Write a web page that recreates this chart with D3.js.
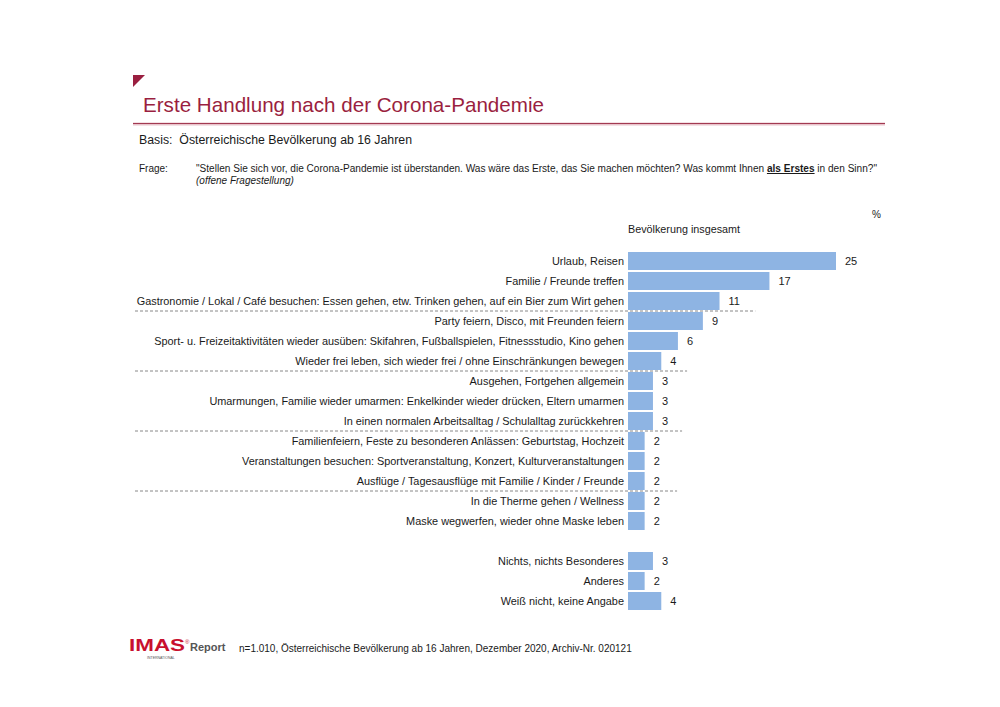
<!DOCTYPE html>
<html><head><meta charset="utf-8">
<script src="https://cdn.jsdelivr.net/npm/d3@7"></script>
<style>
html,body{margin:0;padding:0;background:#fff;}
svg{display:block;font-family:"Liberation Sans",Arial,sans-serif;}
</style></head>
<body>
<svg id="chart" width="1000" height="707"></svg>
<script>
const categories = [
  "Urlaub, Reisen",
  "Familie / Freunde treffen",
  "Gastronomie / Lokal / Café besuchen: Essen gehen, etw. Trinken gehen, auf ein Bier zum Wirt gehen",
  "Party feiern, Disco, mit Freunden feiern",
  "Sport- u. Freizeitaktivitäten wieder ausüben: Skifahren, Fußballspielen, Fitnessstudio, Kino gehen",
  "Wieder frei leben, sich wieder frei / ohne Einschränkungen bewegen",
  "Ausgehen, Fortgehen allgemein",
  "Umarmungen, Familie wieder umarmen: Enkelkinder wieder drücken, Eltern umarmen",
  "In einen normalen Arbeitsalltag / Schulalltag zurückkehren",
  "Familienfeiern, Feste zu besonderen Anlässen: Geburtstag, Hochzeit",
  "Veranstaltungen besuchen: Sportveranstaltung, Konzert, Kulturveranstaltungen",
  "Ausflüge / Tagesausflüge mit Familie / Kinder / Freunde",
  "In die Therme gehen / Wellness",
  "Maske wegwerfen, wieder ohne Maske leben",
  "Nichts, nichts Besonderes",
  "Anderes",
  "Weiß nicht, keine Angabe"
];
const values = [25, 17, 11, 9, 6, 4, 3, 3, 3, 2, 2, 2, 2, 2, 3, 2, 4];
// separator lines after these category indices, with their extent in value units
const separatorsAfter = [2, 5, 8, 11];
const separatorExtent = [15.3, 7.1, 6.5, 5.9];
const gapBeforeIndex = 14;

const title = "Erste Handlung nach der Corona-Pandemie";
const basis = "Basis:  Österreichische Bevölkerung ab 16 Jahren";
const seriesName = "Bevölkerung insgesamt";
const footnote = "n=1.010, Österreichische Bevölkerung ab 16 Jahren, Dezember 2020, Archiv-Nr. 020121";

const svg = d3.select("#chart");
const crimson = "#9a1f40";
const textCol = "#1a1a1a";

// header
svg.append("path").attr("d","M133,75 L145,75 L133,87 Z").attr("fill", crimson);
svg.append("text").attr("x",143).attr("y",112).attr("font-size",21).attr("fill",crimson)
  .attr("textLength",401).attr("lengthAdjust","spacingAndGlyphs").text(title);
svg.append("line").attr("x1",133).attr("x2",885).attr("y1",124).attr("y2",124)
  .attr("stroke","#e8c3cb").attr("stroke-width",3);
svg.append("line").attr("x1",133).attr("x2",885).attr("y1",123.5).attr("y2",123.5)
  .attr("stroke","#a23a52").attr("stroke-width",1.2);

svg.append("text").attr("x",139).attr("y",144).attr("font-size",12).attr("fill",textCol)
  .attr("xml:space","preserve").attr("textLength",273).attr("lengthAdjust","spacingAndGlyphs").text(basis);

svg.append("text").attr("x",139).attr("y",172).attr("font-size",10).attr("fill",textCol).text("Frage:");
const q = svg.append("text").attr("x",196).attr("y",172).attr("font-size",10).attr("fill",textCol)
  .attr("textLength",681).attr("lengthAdjust","spacingAndGlyphs");
q.append("tspan").text("\"Stellen Sie sich vor, die Corona-Pandemie ist überstanden. Was wäre das Erste, das Sie machen möchten? Was kommt Ihnen ");
q.append("tspan").attr("font-weight","bold").attr("text-decoration","underline").text("als Erstes");
q.append("tspan").text(" in den Sinn?\"");
svg.append("text").attr("x",196).attr("y",184).attr("font-size",10).attr("font-style","italic")
  .attr("fill",textCol).text("(offene Fragestellung)");

svg.append("text").attr("x",872).attr("y",218).attr("font-size",10).attr("fill",textCol).text("%");
svg.append("text").attr("x",628).attr("y",233).attr("font-size",10.5).attr("fill",textCol)
  .attr("textLength",112).attr("lengthAdjust","spacingAndGlyphs").text(seriesName);

// scales
const slot = i => i + (i >= gapBeforeIndex ? 1 : 0);
const y = d3.scaleBand().domain(d3.range(categories.length + 1)).range([251, 611]).paddingInner(0.1).paddingOuter(0.05);
const x = d3.scaleLinear().domain([0, 25]).range([628, 836]);

const data = categories.map((c, i) => ({c, v: values[i], s: slot(i)}));

const g = svg.append("g");
g.selectAll("rect.bar").data(data).join("rect").attr("class","bar")
  .attr("x", x(0)).attr("y", d => y(d.s)).attr("width", d => x(d.v) - x(0))
  .attr("height", y.bandwidth()).attr("fill", "#8eb4e3");

g.selectAll("text.cat").data(data).join("text").attr("class","cat")
  .attr("x", x(0) - 4).attr("y", d => y(d.s) + y.bandwidth()/2).attr("dy","0.35em")
  .attr("text-anchor","end").attr("font-size",10.9).attr("fill",textCol).text(d => d.c);

g.selectAll("text.val").data(data).join("text").attr("class","val")
  .attr("x", d => x(d.v) + 9).attr("y", d => y(d.s) + y.bandwidth()/2).attr("dy","0.35em")
  .attr("font-size",11).attr("fill",textCol).text(d => d.v);

const step = y.step();
g.selectAll("line.sep").data(separatorsAfter).join("line").attr("class","sep")
  .attr("x1",135).attr("x2",(d,i) => x(separatorExtent[i]))
  .attr("y1", d => y(slot(d)) - step*y.paddingInner()/2 + step).attr("y2", d => y(slot(d)) - step*y.paddingInner()/2 + step)
  .attr("stroke","#6a6a6a").attr("stroke-width",0.8).attr("stroke-dasharray","3,2");

// footer logo
const logo = svg.append("g");
logo.append("text").attr("x",129).attr("y",651).attr("font-size",16).attr("font-weight","bold")
  .attr("fill","#c8102e").attr("textLength",56).attr("lengthAdjust","spacingAndGlyphs").text("IMAS");
logo.append("text").attr("x",185).attr("y",644).attr("font-size",6).attr("fill","#c8102e").text("®");
logo.append("text").attr("x",147).attr("y",659).attr("font-size",3.5).attr("fill","#555").text("INTERNATIONAL");
logo.append("text").attr("x",190).attr("y",651).attr("font-size",11).attr("font-weight","bold").attr("fill","#555").text("Report");
svg.append("text").attr("x",239).attr("y",652).attr("font-size",10).attr("fill",textCol).text(footnote);
</script>
</body></html>
